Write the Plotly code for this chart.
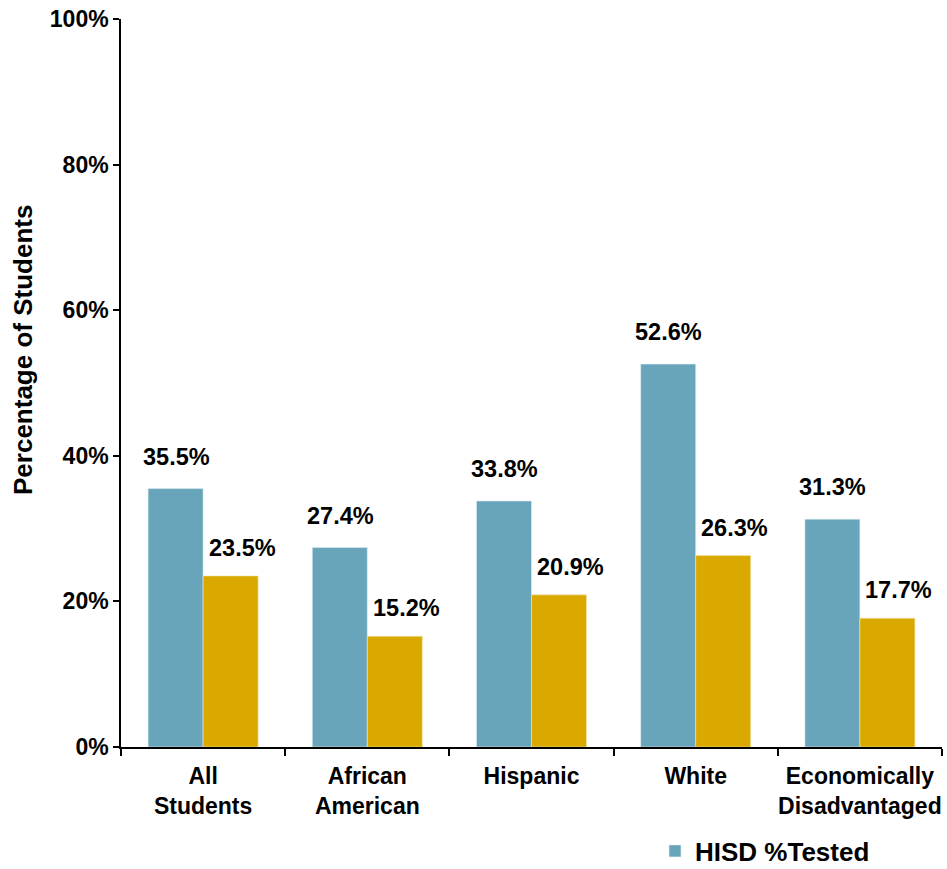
import plotly.graph_objects as go

categories = ["All<br>Students", "African<br>American", "Hispanic", "White", "Economically<br>Disadvantaged"]
hisd_tested = [35.5, 27.4, 33.8, 52.6, 31.3]
second_series = [23.5, 15.2, 20.9, 26.3, 17.7]
y_ticks = [0, 20, 40, 60, 80, 100]
y_tick_labels = ["0%", "20%", "40%", "60%", "80%", "100%"]

BLUE = "#69A5BA"
GOLD = "#DAA900"
FONT = "Arial, Liberation Sans, sans-serif"

fig = go.Figure()
fig.add_trace(go.Bar(x=categories, y=hisd_tested, name="<b>HISD %Tested</b>",
                     marker=dict(color=BLUE, line=dict(width=0.6, color="#dfeef3"))))
fig.add_trace(go.Bar(x=categories, y=second_series, name="", showlegend=False,
                     marker=dict(color=GOLD, line=dict(width=0.6, color="#f5e6b0"))))

for c, v in zip(categories, hisd_tested):
    fig.add_annotation(x=c, y=v, xref="x", yref="y", text=f"<b>{v:.1f}%</b>",
                       showarrow=False, xshift=-27, yshift=32, yanchor="middle",
                       font=dict(size=23.5, color="black", family=FONT))
for c, v in zip(categories, second_series):
    fig.add_annotation(x=c, y=v, xref="x", yref="y", text=f"<b>{v:.1f}%</b>",
                       showarrow=False, xshift=39, yshift=28, yanchor="middle",
                       font=dict(size=23.5, color="black", family=FONT))

L, R, T, B = 121, 5, 19, 122
W, H = 947, 869
pw, ph = W - L - R, H - T - B

fig.add_annotation(x=(23 - L) / pw, y=1 - (350 - T) / ph, xref="paper", yref="paper",
                   text="<b>Percentage of Students</b>",
                   showarrow=False, textangle=-90, xanchor="center", yanchor="middle",
                   font=dict(size=26, color="black", family=FONT))

fig.update_layout(
    width=W, height=H,
    margin=dict(l=L, r=R, t=T, b=B, autoexpand=False),
    plot_bgcolor="white", paper_bgcolor="white",
    barmode="group", bargap=0.33, bargroupgap=0,
    font=dict(family=FONT, color="black", size=23),
    showlegend=True,
    legend=dict(orientation="h", x=(655 - L) / pw, y=1 - (851 - T) / ph, xanchor="left", yanchor="middle",
                font=dict(size=26, color="black", family=FONT), itemwidth=30),
)
fig.update_xaxes(
    type="category", showline=True, linecolor="black", linewidth=1.5,
    ticks="outside", ticklen=7, tickcolor="black", tickwidth=1.5,
    tickson="boundaries", showgrid=False, tickangle=0, automargin=False,
    ticklabelstandoff=8,
    tickfont=dict(size=23, color="black", family=FONT),
    tickprefix="<b>", ticksuffix="</b>",
)
fig.update_yaxes(
    range=[0, 100], tickvals=y_ticks, ticktext=[f"<b>{t}</b>" for t in y_tick_labels],
    showline=True, linecolor="black", linewidth=1.5,
    ticks="outside", ticklen=6, tickcolor="black", tickwidth=1.5,
    showgrid=False, zeroline=False, automargin=False,
    tickfont=dict(size=23, color="black", family=FONT),
)

fig.write_html("out.html", config={"displayModeBar": False},
               post_script="document.body.style.margin='0';document.body.style.overflow='hidden';")
